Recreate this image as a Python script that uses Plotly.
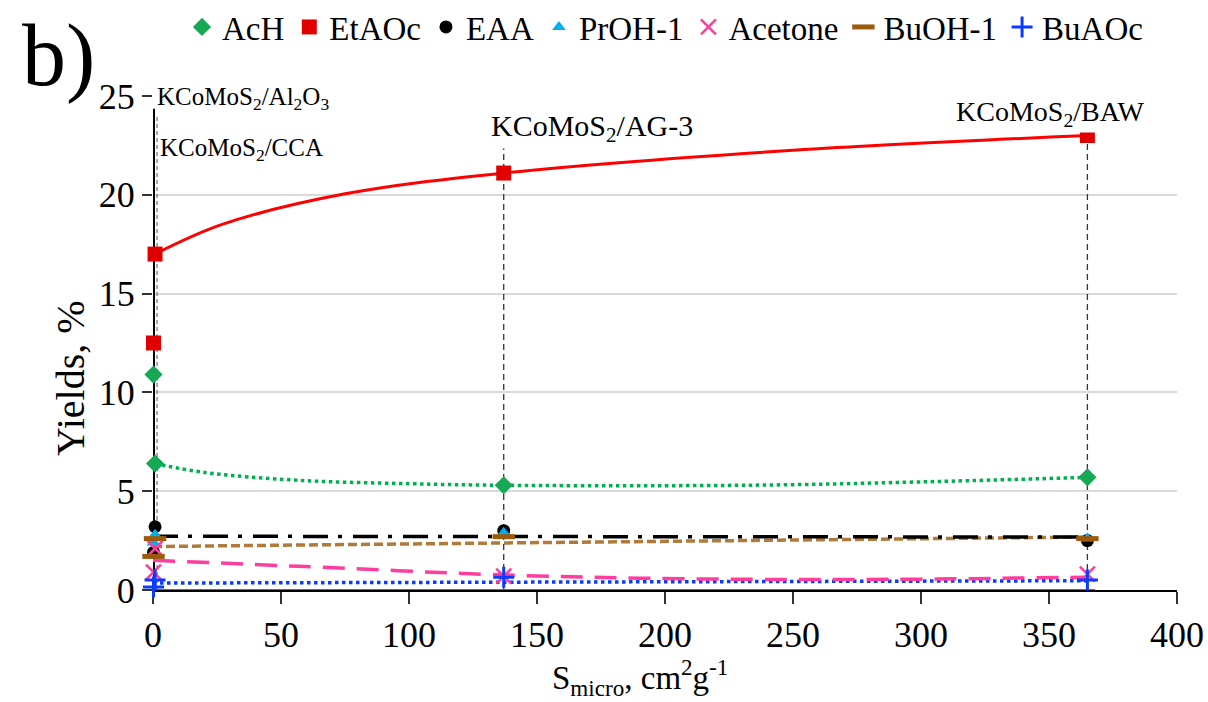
import plotly.graph_objects as go

# Catalysts and their micropore surface (S_micro) values
catalysts = ["KCoMoS2/Al2O3", "KCoMoS2/CCA", "KCoMoS2/AG-3", "KCoMoS2/BAW"]
s_micro = [0.2, 0.8, 137, 365]

# Product yields, % (one value per catalyst, in the order above)
ach = [10.9, 6.4, 5.3, 5.7]
etaoc = [12.5, 17.0, 21.1, 23.0]
eaa = [1.9, 3.2, 3.0, 2.5]
proh1 = [2.4, 2.8, 2.9, 2.6]
acetone = [0.9, 2.1, 0.7, 0.8]
buoh1 = [1.7, 2.6, 2.7, 2.6]
buaoc = [0.15, 0.5, 0.65, 0.5]

# Trend lines (x, yield)
etaoc_trend_x = [0.8, 27, 75, 137, 250, 365]
etaoc_trend_y = [17.0, 18.5, 20.05, 21.1, 22.25, 23.0]
ach_trend_x = [0.8, 20, 57, 100, 137, 200, 250, 300, 365]
ach_trend_y = [6.4, 5.95, 5.55, 5.38, 5.3, 5.28, 5.33, 5.47, 5.7]
eaa_trend_x = [0, 365]
eaa_trend_y = [2.72, 2.68]
buoh1_trend_x = [0, 365]
buoh1_trend_y = [2.2, 2.68]
acetone_trend_x = [0, 57, 137, 190, 250, 300, 365]
acetone_trend_y = [1.5, 1.2, 0.76, 0.6, 0.53, 0.55, 0.65]
buaoc_trend_x = [0, 365]
buaoc_trend_y = [0.35, 0.47]
baseline_x = [0, 368]
baseline_y = [0, 0]

# Vertical guide lines for each catalyst: x position and top (in %)
guide_x = [0.4, 1.6, 137, 365]
guide_top = [24.35, 24.4, 22.4, 23.4]

FONT = "Times New Roman, Liberation Serif, Tinos, serif"

fig = go.Figure()

# Guide lines
fig.add_trace(go.Scatter(x=[guide_x[0], guide_x[0]], y=[0, guide_top[0]], mode="lines",
                         line=dict(color="black", width=2), showlegend=False, hoverinfo="skip"))
fig.add_trace(go.Scatter(x=[guide_x[1], guide_x[1]], y=[0, guide_top[1]], mode="lines",
                         line=dict(color="#8c8c8c", width=1.5, dash="4px,3px"), showlegend=False, hoverinfo="skip"))
for gx, gt in zip(guide_x[2:], guide_top[2:]):
    fig.add_trace(go.Scatter(x=[gx, gx], y=[0, gt], mode="lines",
                             line=dict(color="#333333", width=1.3, dash="6px,4px"),
                             showlegend=False, hoverinfo="skip"))

# Trend lines
fig.add_trace(go.Scatter(x=baseline_x, y=baseline_y, mode="lines",
                         line=dict(color="#548235", width=2), showlegend=False, hoverinfo="skip"))
fig.add_trace(go.Scatter(x=buaoc_trend_x, y=buaoc_trend_y, mode="lines",
                         line=dict(color="#0a3cff", width=3.5, dash="dot"), showlegend=False, hoverinfo="skip"))
fig.add_trace(go.Scatter(x=acetone_trend_x, y=acetone_trend_y, mode="lines", line_shape="spline",
                         line=dict(color="#ff3d9e", width=3.5, dash="22px,12px"), showlegend=False, hoverinfo="skip"))
fig.add_trace(go.Scatter(x=buoh1_trend_x, y=buoh1_trend_y, mode="lines",
                         line=dict(color="#b07a3a", width=3.5, dash="9px,4px"), showlegend=False, hoverinfo="skip"))
fig.add_trace(go.Scatter(x=eaa_trend_x, y=eaa_trend_y, mode="lines",
                         line=dict(color="black", width=3.5, dash="25px,10px,4px,11px"), showlegend=False, hoverinfo="skip"))
fig.add_trace(go.Scatter(x=ach_trend_x, y=ach_trend_y, mode="lines", line_shape="spline",
                         line=dict(color="#00b050", width=3.5, dash="dot"), showlegend=False, hoverinfo="skip"))
fig.add_trace(go.Scatter(x=etaoc_trend_x, y=etaoc_trend_y, mode="lines", line_shape="spline",
                         line=dict(color="#ff0000", width=3), showlegend=False, hoverinfo="skip"))

# Data series
series = [
    ("AcH", ach, dict(symbol="diamond", size=14, color="#16a955")),
    ("EtAOc", etaoc, dict(symbol="square", size=15, color="#e00000")),
    ("EAA", eaa, dict(symbol="circle", size=13, color="black")),
    ("PrOH-1", proh1, dict(symbol="triangle-up", size=12, color="#00b0f0")),
    ("Acetone", acetone, dict(symbol="x-thin-open", size=15, color="#ff3d9e",
                              line=dict(color="#ff3d9e", width=2.5))),
    ("BuOH-1", buoh1, dict(symbol="line-ew-open", size=16, color="#9c5a0c",
                           line=dict(color="#9c5a0c", width=5))),
    ("BuAOc", buaoc, dict(symbol="cross-thin-open", size=15, color="#0a3cff",
                          line=dict(color="#0a3cff", width=3))),
]
for name, vals, mk in series:
    fig.add_trace(go.Scatter(x=s_micro, y=vals, mode="markers", name=name, marker=mk,
                             cliponaxis=False))

# Catalyst labels
labels = [
    ("KCoMoS<sub>2</sub>/Al<sub>2</sub>O<sub>3</sub>", 0.8, 24.85, "left", 25),
    ("KCoMoS<sub>2</sub>/CCA", 1.8, 22.3, "left", 25),
    ("KCoMoS<sub>2</sub>/AG-3", 171.5, 23.4, "center", 30),
    ("KCoMoS<sub>2</sub>/BAW", 350.4, 24.1, "center", 28),
]
for txt, lx, ly, anchor, size in labels:
    fig.add_annotation(x=lx, y=ly, xref="x", yref="y", text=txt, showarrow=False,
                       xanchor=anchor, yanchor="middle", bgcolor="white", borderpad=1,
                       font=dict(family=FONT, size=size, color="black"))

# Axis titles and panel letter
fig.add_annotation(x=(70 - 153) / 1024, y=(590 - 378) / 494, xref="paper", yref="paper",
                   text="Yields, %", showarrow=False, textangle=-90,
                   xanchor="center", yanchor="middle",
                   font=dict(family=FONT, size=40, color="black"))
fig.add_annotation(x=(640 - 153) / 1024, y=(590 - 677) / 494, xref="paper", yref="paper",
                   text="S<sub>micro</sub>, cm<sup>2</sup>g<sup>-1</sup>", showarrow=False,
                   xanchor="center", yanchor="middle",
                   font=dict(family=FONT, size=33, color="black"))
fig.add_annotation(x=(58 - 153) / 1024, y=(590 - 56) / 494, xref="paper", yref="paper",
                   text="b)", showarrow=False, xanchor="center", yanchor="middle",
                   font=dict(family=FONT, size=88, color="black"))

fig.update_layout(
    width=1208, height=702,
    margin=dict(l=153, r=31, t=96, b=112, autoexpand=False),
    paper_bgcolor="white", plot_bgcolor="white",
    font=dict(family=FONT, color="black"),
    legend=dict(orientation="h", x=(182 - 153) / 1024, y=(590 - 27) / 494,
                xanchor="left", yanchor="middle",
                font=dict(family=FONT, size=33, color="black"),
                itemwidth=30, tracegroupgap=0, bgcolor="rgba(0,0,0,0)"),
    xaxis=dict(range=[0, 400], dtick=50, tick0=0, showgrid=False, zeroline=False,
               showline=True, linecolor="black", linewidth=2, layer="below traces",
               ticks="outside", ticklen=12, tickwidth=2, tickcolor="#333333",
               tickfont=dict(family=FONT, size=36, color="black")),
    yaxis=dict(range=[0, 25], dtick=5, tick0=0, showgrid=True, gridcolor="#d9d9d9",
               gridwidth=1.5, zeroline=False, showline=False,
               ticks="outside", ticklen=10, tickwidth=2, tickcolor="#333333",
               tickfont=dict(family=FONT, size=36, color="black")),
    showlegend=True,
)

fig.write_html("out.html")
